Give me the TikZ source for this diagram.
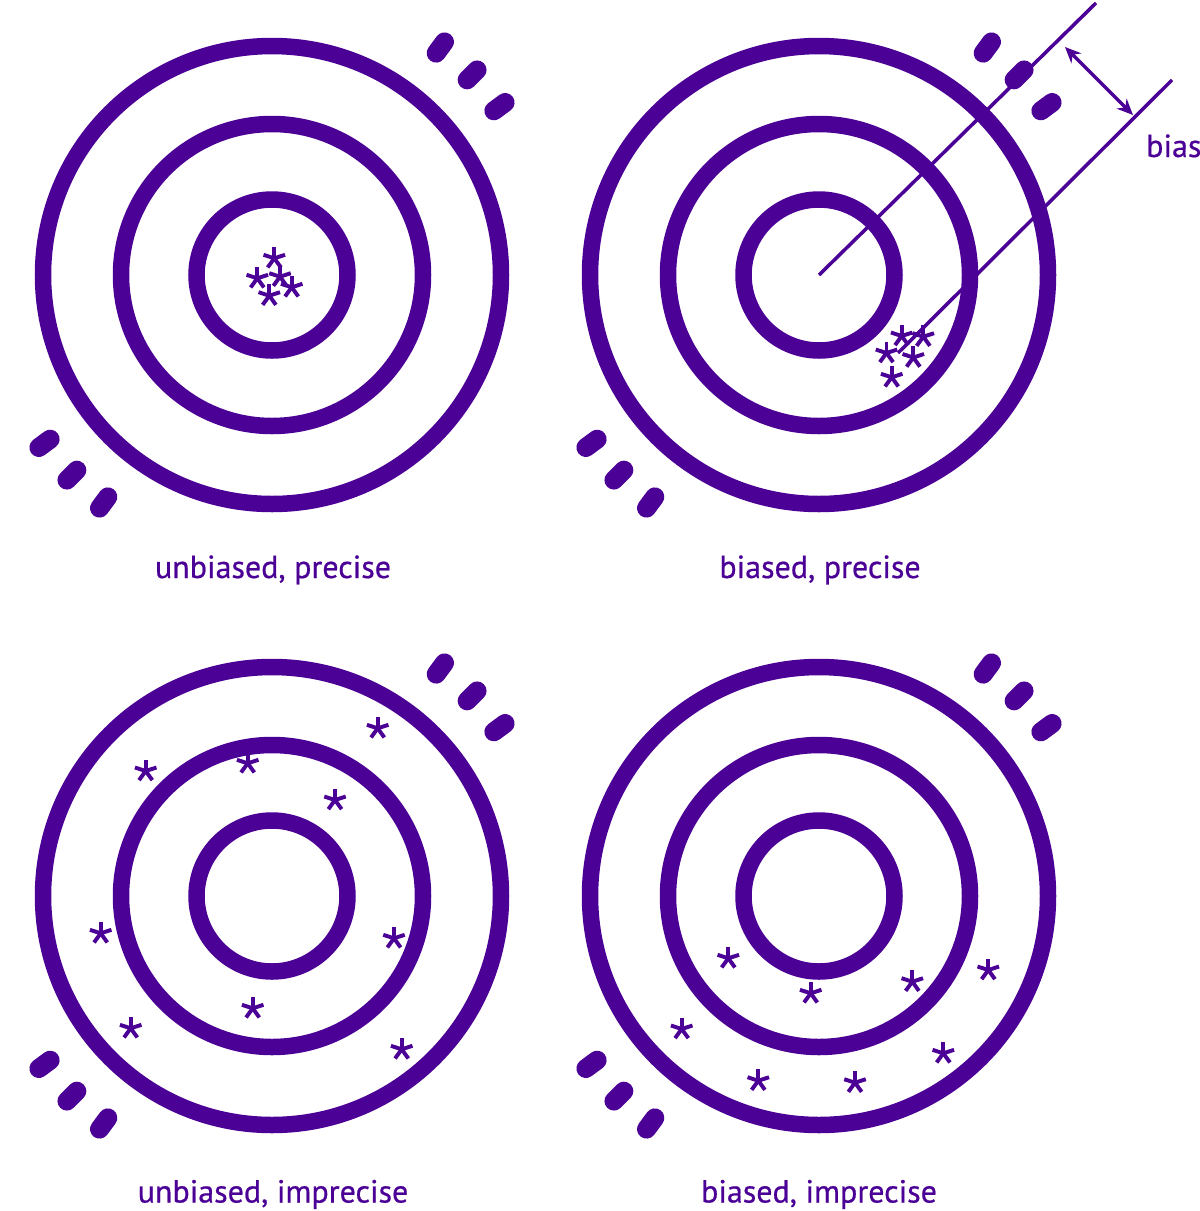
\documentclass[tikz,border=0pt]{standalone}
\usepackage{fontspec}
\setmainfont{PT Sans}
\newfontfamily\lblfont{PT Sans}[BoldFont={PT Sans},BoldFeatures={FakeBold=0.6}]
\usetikzlibrary{arrows.meta}
\definecolor{ink}{RGB}{75,0,150}
\begin{document}
\begin{tikzpicture}[x=1pt,y=-1pt,
  ring/.style={draw=ink,line width=16.5pt},
  pill/.style={draw=ink,line width=19pt,line cap=round},
  biasline/.style={draw=ink,line width=3.5pt},
  biasarrow/.style={draw=ink,line width=3.5pt,{Stealth[length=16pt,width=14pt]}-{Stealth[length=16pt,width=14pt]}},
  spoke/.style={draw=ink,line width=3.9pt},
  lbl/.style={text=ink,font=\lblfont\bfseries\fontsize{32}{38}\selectfont,anchor=base,inner sep=0pt},
  ast/.pic={\foreach \a in {270,342,54,126,198} \draw[spoke] (0,0) -- (\a:11.3);}
]
\useasboundingbox (0,0) rectangle (1200,1211);
% target centres
\coordinate (tl) at (272,275);
\coordinate (tr) at (819,275);
\coordinate (bl) at (272,896);
\coordinate (br) at (819,896);
% rings and motion pills
\foreach \c in {tl,tr,bl,br}{
  \foreach \r in {229,151,75.5}
    \draw[ring] (\c) circle[radius=\r pt];
  \foreach \t in {-36.5,-45,-53.5,143.5,135,126.5}
    \draw[pill,shift={(\c)}] (\t:276) -- (\t:290);
}
% bias construction (top right)
\coordinate (b1s) at (819,275);
\coordinate (b1e) at (1096,3);
\coordinate (b2s) at (898,353);
\coordinate (b2e) at (1172,80);
\coordinate (ba) at (1065,47);
\coordinate (bb) at (1133,115);
\draw[biasline] (b1s) -- (b1e);
\draw[biasline] (b2s) -- (b2e);
\draw[biasarrow] (ba) -- (bb);
% asterisks: unbiased, precise
\foreach \p in {(274.3,258.3),(257.3,278.3),(280,276.7),(291.7,287.3),(269.3,295.7)}
  \pic at \p {ast};
% biased, precise
\foreach \p in {(901.7,336),(923.3,336.7),(886.5,353),(913.3,357.5),(891.7,377.3)}
  \pic at \p {ast};
% unbiased, imprecise
\foreach \p in {(377.7,728.3),(145.7,771),(247.7,763.3),(335,800),(100.7,933.3),(394,938.3),(252.7,1008.3),(130.7,1028.3),(401.7,1049.3)}
  \pic at \p {ast};
% biased, imprecise
\foreach \p in {(728.3,958.3),(810.7,993.3),(912.3,981.7),(988.3,970),(681.7,1029),(943.3,1053.3),(758.3,1080.7),(855,1082.7)}
  \pic at \p {ast};
% labels
\node[lbl] (l1) at (273,578) {unbiased, precise};
\node[lbl] (l2) at (820,578) {biased, precise};
\node[lbl] (l3) at (273,1202.5) {unbiased, imprecise};
\node[lbl] (l4) at (819,1202.5) {biased, imprecise};
\node[lbl,anchor=base west] (lb) at (1146,157) {bias};
\end{tikzpicture}
\end{document}
